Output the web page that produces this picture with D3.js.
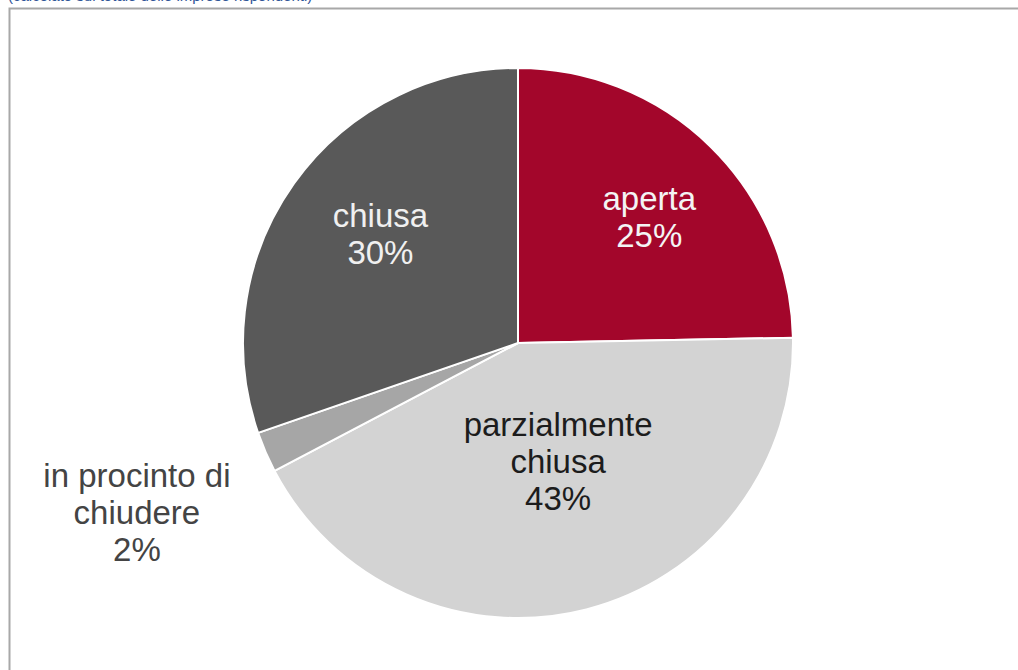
<!DOCTYPE html>
<html>
<head>
<meta charset="utf-8">
<script src="https://cdn.jsdelivr.net/npm/d3@7"></script>
<style>
  html, body { margin: 0; padding: 0; background: #fff; }
  svg { display: block; font-family: "Liberation Sans", Arial, sans-serif; }
</style>
</head>
<body>
<svg width="1018" height="670"></svg>
<script>
// data
var categories = ["aperta", "parzialmente chiusa", "in procinto di chiudere", "chiusa"];
var values = [24.7, 42.6, 2.4, 30.3];
var pctLabels = ["25%", "43%", "2%", "30%"];
var labelLines = [["aperta"], ["parzialmente", "chiusa"], ["in procinto di", "chiudere"], ["chiusa"]];

var colors = ["#a3062b", "#d3d3d3", "#a6a6a6", "#595959"];
var textColors = ["#f4f4f4", "#1c1c1c", "#444444", "#f0f0f0"];
// how far from the centre each label sits (fraction of radius), plus nudges
var labelR = [0.64, 0.44, 1.51, 0.65];
var labelDx = [8, 10, 0, 8];
var labelDy = [0, 1, 5, -5];

var svg = d3.select("svg");
var cx = 518, cy = 343, r = 275;

// frame, runs off the right and bottom edge
svg.append("rect")
   .attr("x", 9.5).attr("y", 8.5)
   .attr("width", 1030).attr("height", 700)
   .attr("fill", "none")
   .attr("stroke", "#a8a8a8")
   .attr("stroke-width", 2);

// caption cut off at the top
svg.append("text")
   .attr("x", 8).attr("y", 1)
   .attr("fill", "#2f5597")
   .attr("font-size", 15)
   .text("(calcolato sul totale delle imprese rispondenti)");

var pie = d3.pie().sort(null).value(function(d) { return d; });
var arcs = pie(values);

var arc = d3.arc().innerRadius(0).outerRadius(r);

var g = svg.append("g")
           .attr("transform", "translate(" + cx + "," + cy + ")");

g.selectAll("path")
 .data(arcs)
 .enter().append("path")
 .attr("d", arc)
 .attr("fill", function(d, i) { return colors[i]; })
 .attr("stroke", "#fff")
 .attr("stroke-width", 2)
 .attr("stroke-linejoin", "round");

var fs = 33, lh = 37;

var labels = g.selectAll(".lbl")
 .data(arcs)
 .enter().append("text")
 .attr("class", "lbl")
 .attr("text-anchor", "middle")
 .attr("font-size", fs)
 .attr("fill", function(d, i) { return textColors[i]; })
 .each(function(d, i) {
     var a = (d.startAngle + d.endAngle) / 2;
     var rr = labelR[i] * r;
     var x = Math.sin(a) * rr + labelDx[i];
     var y = -Math.cos(a) * rr + labelDy[i];
     var lines = labelLines[i].concat([pctLabels[i]]);
     var y0 = y - (lines.length - 1) * lh / 2 + fs * 0.35;
     var t = d3.select(this);
     lines.forEach(function(s, k) {
         t.append("tspan")
          .attr("x", x)
          .attr("y", y0 + k * lh)
          .text(s);
     });
 });
</script>
</body>
</html>
